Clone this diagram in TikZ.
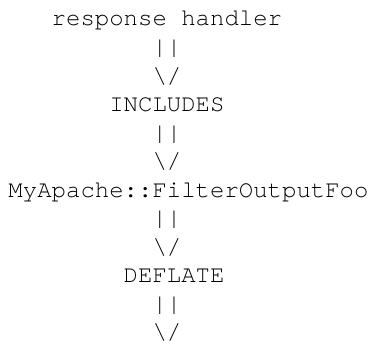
\documentclass[tikz,border=0pt]{standalone}
\usepackage{fontspec}
\setmonofont{TeX Gyre Cursor}
\begin{document}
\begin{tikzpicture}[x=1pt,y=-1pt,
  ascii/.style={anchor=base west, inner sep=0pt, outer sep=0pt,
    font=\ttfamily\fontsize{24}{28.5}\selectfont}]
\useasboundingbox (0,0) rectangle (371,345);
\def\cw{14.4}
\def\xo{8.5}
\node[ascii] (l0) at (\xo+3*\cw,26) {response handler};
\node[ascii] (l1) at (\xo+10*\cw,54.5) {||};
\node[ascii] (l2) at (\xo+10*\cw,83) {\textbackslash/};
\node[ascii] (l3) at (\xo+7*\cw,111.5) {INCLUDES};
\node[ascii] (l4) at (\xo+10*\cw,140) {||};
\node[ascii] (l5) at (\xo+10*\cw,168.5) {\textbackslash/};
\node[ascii] (l6) at (\xo,197) {MyApache::FilterOutputFoo};
\node[ascii] (l7) at (\xo+10*\cw,225.5) {||};
\node[ascii] (l8) at (\xo+10*\cw,254) {\textbackslash/};
\node[ascii] (l9) at (\xo+8*\cw,282.5) {DEFLATE};
\node[ascii] (l10) at (\xo+10*\cw,311) {||};
\node[ascii] (l11) at (\xo+10*\cw,339.5) {\textbackslash/};
\end{tikzpicture}
\end{document}
